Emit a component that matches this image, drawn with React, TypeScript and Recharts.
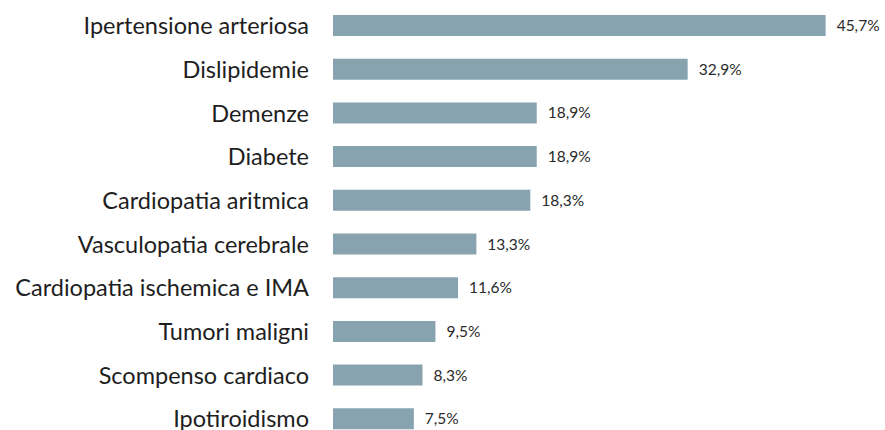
import React from 'react'
import { BarChart, Bar, XAxis, YAxis, LabelList } from 'recharts'

const categories = [
  'Ipertensione arteriosa',
  'Dislipidemie',
  'Demenze',
  'Diabete',
  'Cardiopatia aritmica',
  'Vasculopatia cerebrale',
  'Cardiopatia ischemica e IMA',
  'Tumori maligni',
  'Scompenso cardiaco',
  'Ipotiroidismo',
]

const values = [45.7, 32.9, 18.9, 18.9, 18.3, 13.3, 11.6, 9.5, 8.3, 7.5]

const data = categories.map((name, i) => ({ name, value: values[i] }))

const fmt = (v: number) => `${v.toFixed(1).replace('.', ',')}%`

export default function App() {
  return (
    <div style={{ position: 'absolute', top: 0, left: 0 }}>
      <BarChart
        width={885}
        height={441}
        data={data}
        layout="vertical"
        margin={{ top: 4, right: 13, bottom: 0, left: 0 }}
        barSize={21}
      >
        <XAxis type="number" domain={[0, 50]} hide />
        <YAxis
          type="category"
          dataKey="name"
          width={333}
          axisLine={false}
          tickLine={false}
          tickSize={0}
          tickMargin={24}
          interval={0}
          tick={{ fill: '#1e1e1e', fontSize: 23.5, fontFamily: 'Lato' }}
        />
        <Bar dataKey="value" fill="#87a3b0" isAnimationActive={false}>
          <LabelList
            dataKey="value"
            position="right"
            offset={11}
            formatter={(v: any) => fmt(Number(v))}
            style={{ fill: '#2a2a2a', fontSize: 15.5, fontFamily: 'Lato' }}
          />
        </Bar>
      </BarChart>
    </div>
  )
}
